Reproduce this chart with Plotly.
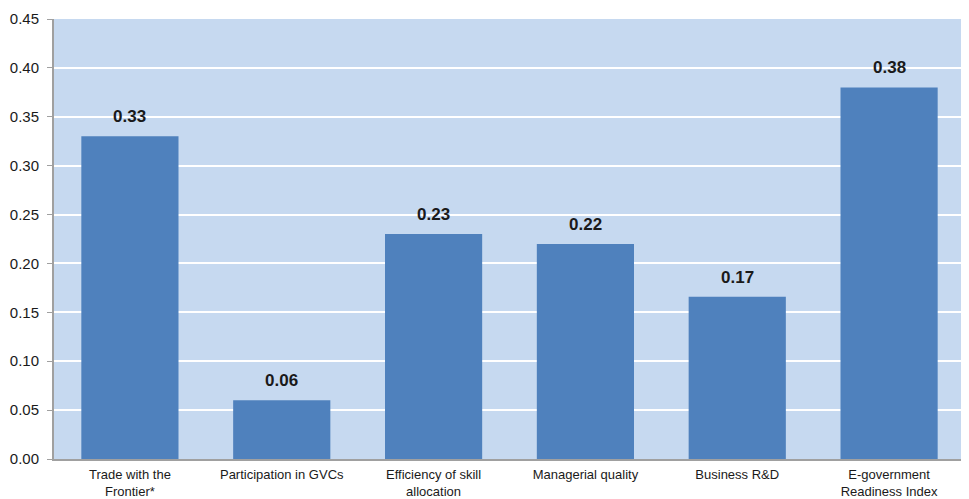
import plotly.graph_objects as go

CATEGORIAS = [
    "Trade with the<br>Frontier*",
    "Participation in GVCs",
    "Efficiency of skill<br>allocation",
    "Managerial quality",
    "Business R&D",
    "E-government<br>Readiness Index",
]
VALORES = [0.33, 0.06, 0.23, 0.22, 0.166, 0.38]
ROTULOS = ["0.33", "0.06", "0.23", "0.22", "0.17", "0.38"]
Y_TICKS = [0.00, 0.05, 0.10, 0.15, 0.20, 0.25, 0.30, 0.35, 0.40, 0.45]

fig = go.Figure()
fig.add_trace(go.Bar(
    x=CATEGORIAS,
    y=VALORES,
    marker=dict(color="#4f81bd", line=dict(width=0)),
))

# rótulos em negrito acima das barras
for cat, val, rot in zip(CATEGORIAS, VALORES, ROTULOS):
    fig.add_annotation(
        x=cat, y=val, text=f"<b>{rot}</b>",
        showarrow=False, yanchor="bottom", yshift=8,
        font=dict(family="Liberation Sans, Arial", size=17, color="#1a1a1a"),
    )

# a página tem margem de 8px no body; figura compensada
fig.update_layout(
    width=961,
    height=491,
    margin=dict(t=11, b=40, l=46, r=4),
    paper_bgcolor="white",
    plot_bgcolor="#c6d9f0",
    bargap=0.36,
    showlegend=False,
    font=dict(family="Liberation Sans, Arial", size=13, color="#1a1a1a"),
    xaxis=dict(
        automargin=False,
        showgrid=False,
        showline=True, linecolor="#a0a0a0", linewidth=2,
        ticks="outside", ticklen=2, tickcolor="rgba(0,0,0,0)",
        tickfont=dict(size=13),
    ),
    yaxis=dict(
        automargin=False,
        range=[0, 0.45],
        tickvals=Y_TICKS,
        tickformat=".2f",
        showgrid=True, gridcolor="white", gridwidth=1.5,
        showline=True, linecolor="#a0a0a0", linewidth=2,
        ticks="outside", ticklen=5, tickcolor="#a0a0a0",
        ticklabelstandoff=5,
        zeroline=False,
        tickfont=dict(size=15),
    ),
)

fig.write_html("out.html")
